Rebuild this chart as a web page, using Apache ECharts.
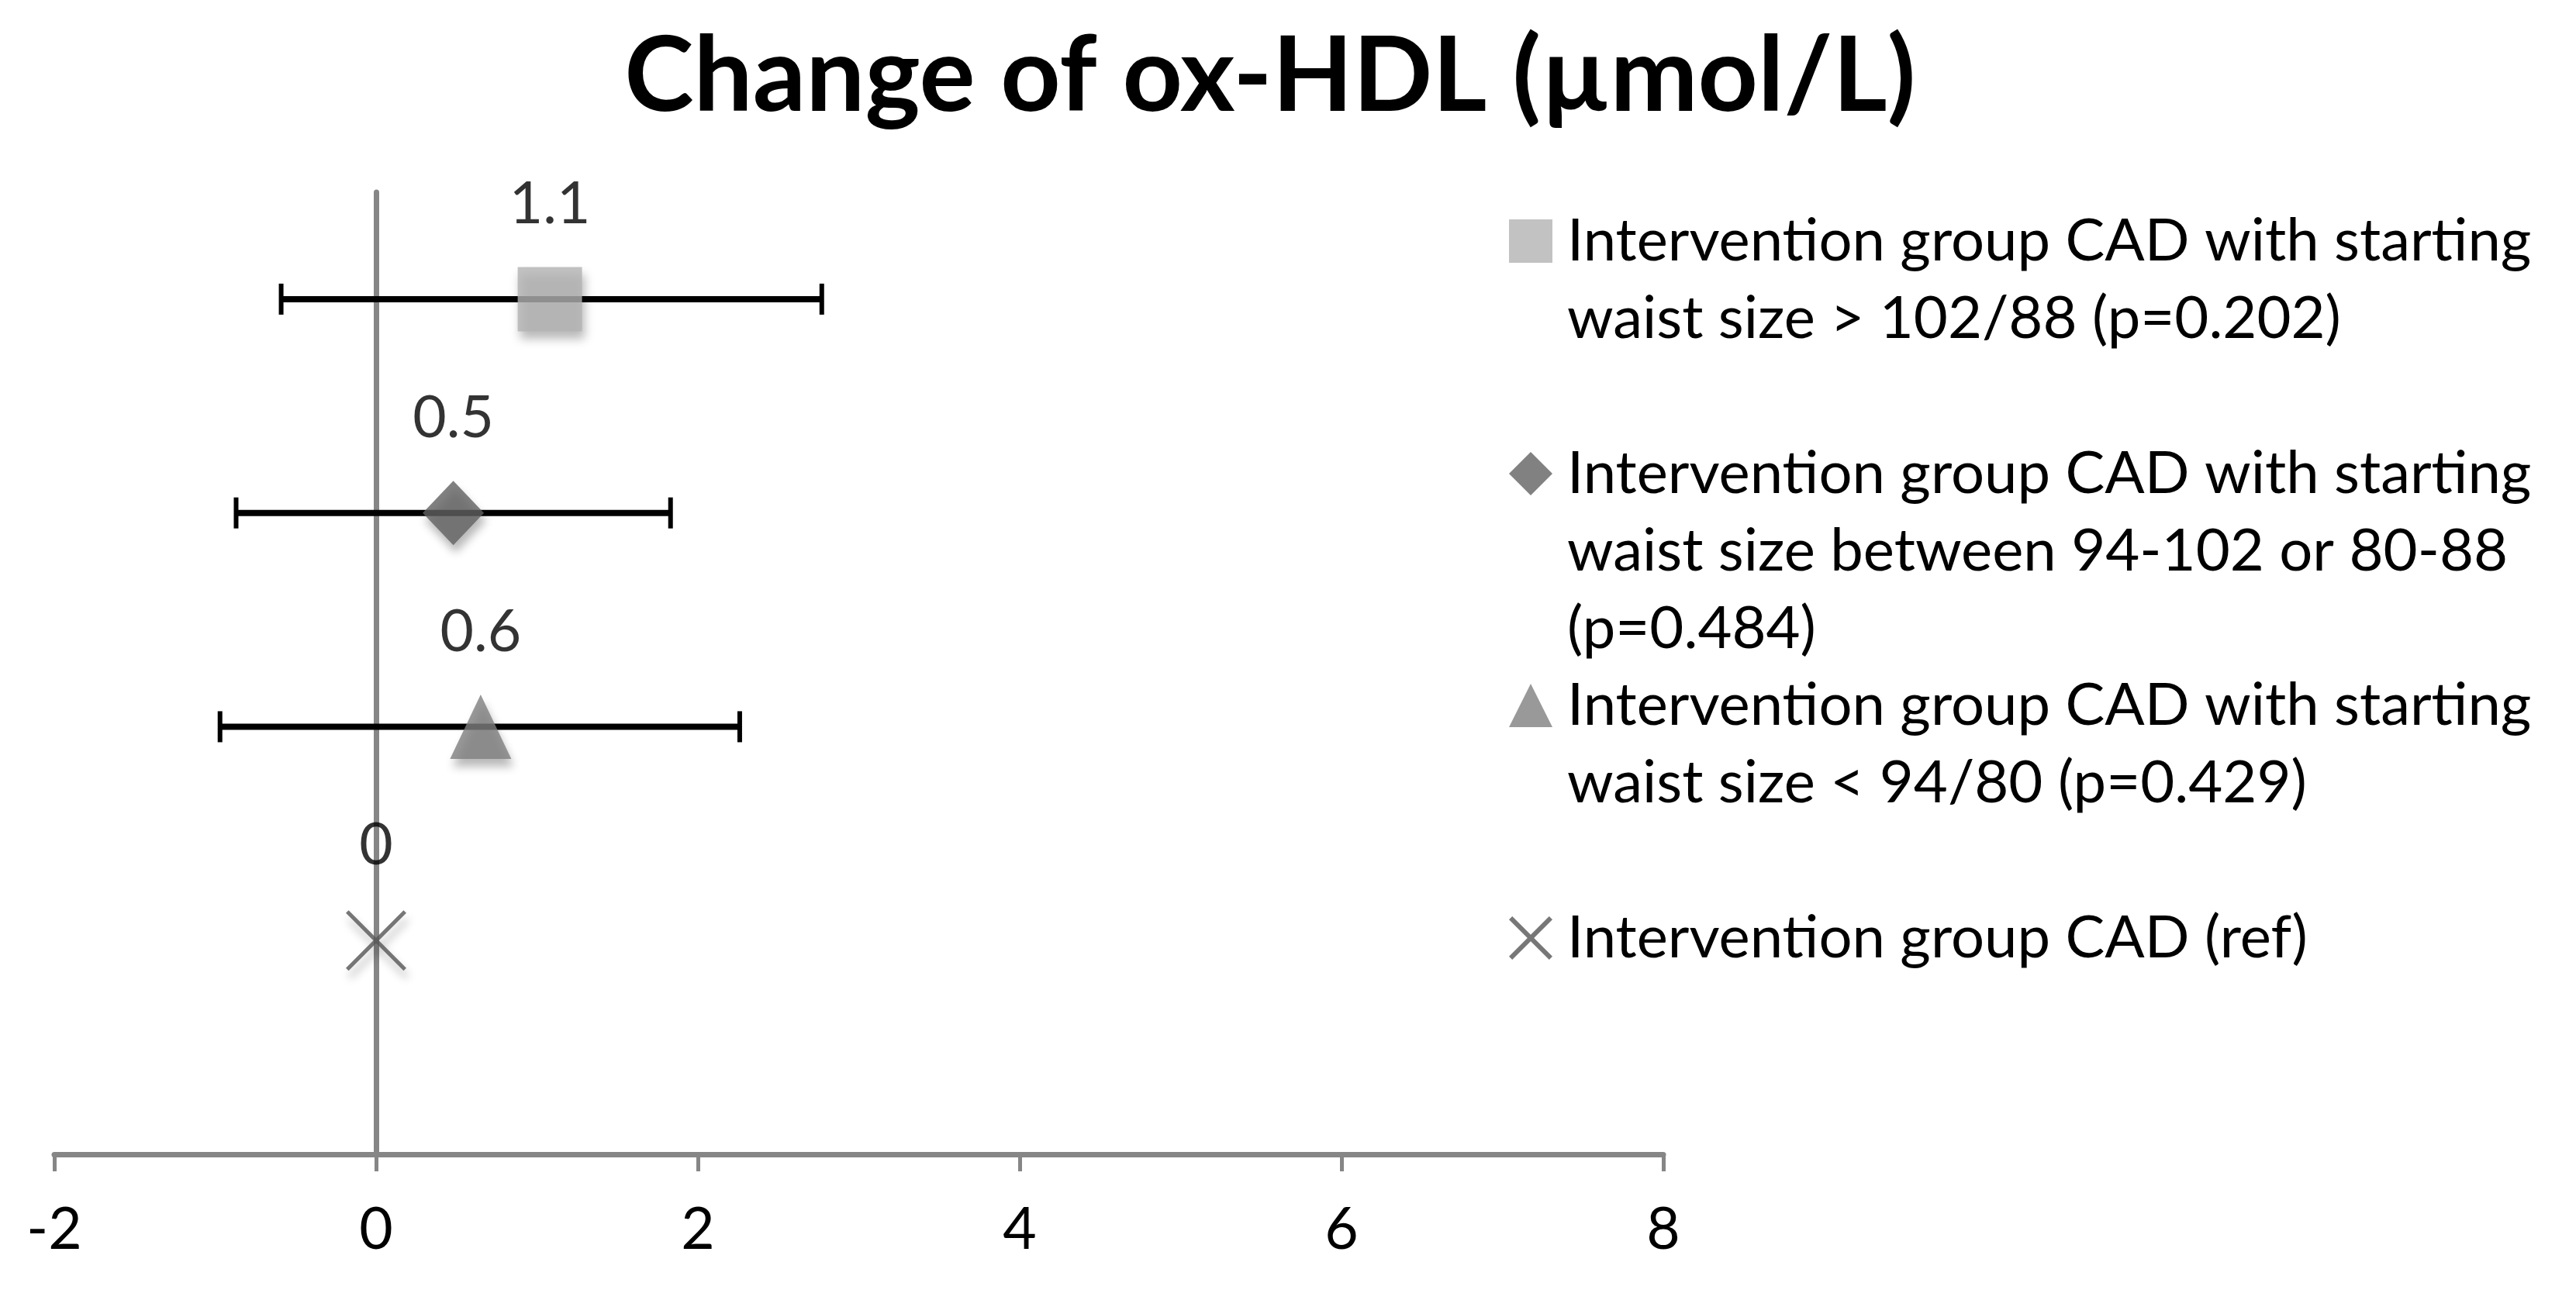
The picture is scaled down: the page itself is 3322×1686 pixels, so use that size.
<!DOCTYPE html>
<html>
<head>
<meta charset="utf-8">
<script src="https://cdn.jsdelivr.net/npm/echarts@6/dist/echarts.min.js"></script>
<style>
html,body{margin:0;padding:0;background:#fff;}
#chart{width:3322px;height:1686px;}
</style>
</head>
<body>
<div id="chart"></div>
<script>
// ---- data ----
var titleText = 'Change of ox-HDL (µmol/L)';
var seriesNames = [
  'Intervention group CAD with starting waist size > 102/88 (p=0.202)',
  'Intervention group CAD with starting waist size between 94-102 or 80-88 (p=0.484)',
  'Intervention group CAD with starting waist size < 94/80 (p=0.429)',
  'Intervention group CAD (ref)'
];
var legendLines = [
  ['Intervention group CAD with starting', 'waist size > 102/88 (p=0.202)'],
  ['Intervention group CAD with starting', 'waist size between 94-102 or 80-88', '(p=0.484)'],
  ['Intervention group CAD with starting', 'waist size < 94/80 (p=0.429)'],
  ['Intervention group CAD (ref)']
];
var changeValues = [1.08, 0.48, 0.65, 0];     // x position of each estimate
var rowPositions = [4, 3, 2, 1];               // y position of each row
var valueLabels = ['1.1', '0.5', '0.6', '0'];
var errLow = [-0.59, -0.87, -0.97, null];
var errHigh = [2.77, 1.83, 2.26, null];
var xTicks = [-2, 0, 2, 4, 6, 8];

// ---- styles ----
var FONT = 'Lato';
function crossPath(d) {
  var a = 50 - d, b = 50 + d, e = 100 - d;
  return 'path://M0,' + d + 'L' + d + ',0L50,' + a + 'L' + e + ',0L100,' + d +
    'L' + b + ',50L100,' + e + 'L' + e + ',100L50,' + b + 'L' + d + ',100L0,' + e +
    'L' + a + ',50Z';
}
var symbols = ['rect', 'diamond', 'triangle', crossPath(4.6)];
var legendIcons = ['rect', 'diamond', 'triangle', crossPath(7.5)];
var symbolSizes = [[83, 83], [79, 83], [79, 83], [78, 78]];
var colors = ['#b3b3b3', '#626262', '#808080', '#555555'];
var legendCenters = [311, 611, 910, 1210];
var LH = 100;

var chart = echarts.init(document.getElementById('chart'), null, {renderer: 'canvas'});

var series = [];
// error bars
var errData = [];
for (var i = 0; i < rowPositions.length; i++) {
  if (errLow[i] != null) errData.push([rowPositions[i], errLow[i], errHigh[i]]);
}
series.push({
  type: 'custom',
  name: 'errorbars',
  z: 1,
  silent: true,
  encode: {x: [1, 2], y: 0},
  data: errData,
  renderItem: function (params, api) {
    var y = api.value(0), lo = api.value(1), hi = api.value(2);
    var p1 = api.coord([lo, y]), p2 = api.coord([hi, y]);
    var h = 20;
    return {
      type: 'group',
      children: [
        {type: 'line', shape: {x1: p1[0], y1: p1[1], x2: p2[0], y2: p2[1]}, style: {stroke: '#000', lineWidth: 8}},
        {type: 'line', shape: {x1: p1[0], y1: p1[1] - h, x2: p1[0], y2: p1[1] + h}, style: {stroke: '#000', lineWidth: 6}},
        {type: 'line', shape: {x1: p2[0], y1: p2[1] - h, x2: p2[0], y2: p2[1] + h}, style: {stroke: '#000', lineWidth: 6}}
      ]
    };
  }
});

for (var k = 0; k < seriesNames.length; k++) {
  (function (k) {
    series.push({
      type: 'scatter',
      name: seriesNames[k],
      z: 3,
      symbol: symbols[k],
      symbolSize: symbolSizes[k],
      data: [[changeValues[k], rowPositions[k]]],
      itemStyle: {
        color: colors[k],
        shadowColor: 'rgba(0,0,0,0.35)',
        shadowBlur: 12,
        shadowOffsetX: 3,
        shadowOffsetY: 10
      },
      label: {
        show: true,
        position: 'inside',
        offset: [0, -122],
        formatter: function () { return valueLabels[k]; },
        fontFamily: FONT,
        fontSize: 75,
        color: '#000'
      },
      emphasis: {disabled: true}
    });
  })(k);
}

var legends = [];
for (var j = 0; j < seriesNames.length; j++) {
  (function (j) {
    var n = legendLines[j].length;
    var total = 2 * n - 1;
    var blank = '';
    for (var b = 0; b < n - 1; b++) blank += '\n';
    legends.push({
      orient: 'vertical',
      left: 1946,
      top: legendCenters[j] - total * LH / 2,
      padding: 0,
      itemWidth: 56,
      itemHeight: 56,
      selectedMode: false,
      data: [{
        name: seriesNames[j],
        icon: legendIcons[j],
        itemStyle: {
          color: colors[j],
          borderWidth: 0,
          shadowBlur: 0, shadowColor: 'transparent', shadowOffsetX: 0, shadowOffsetY: 0
        }
      }],
      formatter: function () { return blank + legendLines[j].join('\n'); },
      textStyle: {
        fontFamily: FONT,
        fontSize: 76,
        lineHeight: LH,
        color: '#000',
        padding: [0, 0, 0, 14]
      }
    });
  })(j);
}

chart.setOption({
  backgroundColor: '#fff',
  animation: false,
  title: {
    text: titleText,
    left: 1638,
    textAlign: 'center',
    top: 32,
    padding: 0,
    textStyle: {fontFamily: FONT, fontWeight: 'bold', fontSize: 135, color: '#000'}
  },
  legend: legends,
  grid: {left: 70, right: 1177, top: 248, bottom: 197, containLabel: false},
  xAxis: {
    type: 'value',
    min: xTicks[0],
    max: xTicks[xTicks.length - 1],
    interval: 2,
    axisLine: {show: true, onZero: false, lineStyle: {color: '#868686', width: 7}},
    axisTick: {show: true, length: 22, lineStyle: {color: '#868686', width: 5}},
    axisLabel: {fontFamily: FONT, fontSize: 75, color: '#000', margin: 60},
    splitLine: {show: false}
  },
  yAxis: {
    type: 'value',
    min: 0,
    max: 4.5,
    axisLine: {show: true, onZero: true, lineStyle: {color: '#868686', width: 7}},
    axisTick: {show: false},
    axisLabel: {show: false},
    splitLine: {show: false}
  },
  series: series
});
</script>
</body>
</html>
